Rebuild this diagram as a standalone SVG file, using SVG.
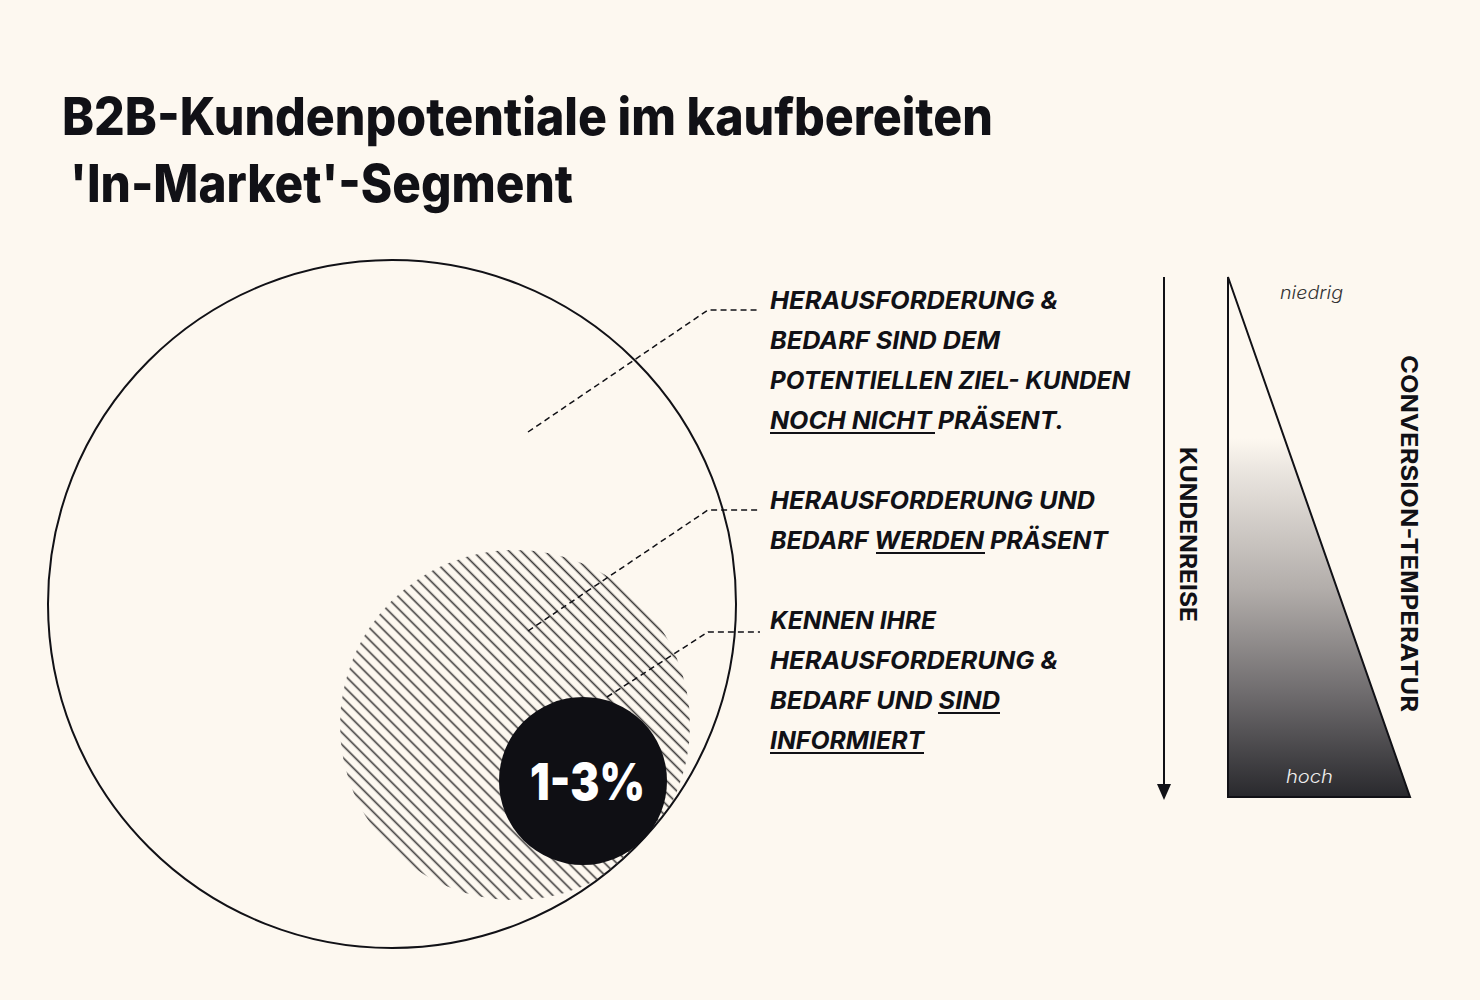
<svg xmlns="http://www.w3.org/2000/svg" width="1480" height="1000" viewBox="0 0 1480 1000">
<style>
.title{font-family:Inter,"Liberation Sans",sans-serif;font-weight:800;font-size:52px;fill:#111116;}
.lbl{font-family:Inter,"Liberation Sans",sans-serif;font-weight:700;font-style:italic;font-size:24px;fill:#111116;}
.vert{font-family:Inter,"Liberation Sans",sans-serif;font-weight:700;font-size:23px;fill:#111116;}
.small{font-family:Inter,"Liberation Sans",sans-serif;font-style:italic;font-weight:300;font-size:18px;}
.dash{fill:none;stroke:#111116;stroke-width:1.5;stroke-dasharray:6 4;}
.ul{stroke:#111116;stroke-width:2;}
</style>
<defs>
<pattern id="hatch" patternUnits="userSpaceOnUse" width="8.5" height="8.5" patternTransform="rotate(45)">
<line x1="0" y1="4.25" x2="8.5" y2="4.25" stroke="#3a3838" stroke-width="1.6"/>
</pattern>
<clipPath id="bigClip"><circle cx="392" cy="604" r="344"/></clipPath>
<linearGradient id="grad" gradientUnits="userSpaceOnUse" x1="0" y1="277" x2="0" y2="797">
<stop offset="0" stop-color="#fdf8f0"/>
<stop offset="0.31" stop-color="#fdf8f0"/>
<stop offset="0.37" stop-color="#ebe6e0"/>
<stop offset="0.6" stop-color="#b2adaa"/>
<stop offset="0.8" stop-color="#6f6c6e"/>
<stop offset="1" stop-color="#29292d"/>
</linearGradient>
</defs>
<rect width="1480" height="1000" fill="#fdf8f0"/>

<g id="title">
<text class="title" x="62" y="135" textLength="931" lengthAdjust="spacingAndGlyphs">B2B-Kundenpotentiale im kaufbereiten</text>
<text class="title" x="70" y="202" textLength="503" lengthAdjust="spacingAndGlyphs">'In-Market'-Segment</text>
</g>

<g id="outer-circle">
<circle cx="392" cy="604" r="344" fill="none" stroke="#111116" stroke-width="2"/>
</g>

<g id="hatched-circle">
<circle cx="515" cy="725" r="175" fill="url(#hatch)" clip-path="url(#bigClip)"/>
</g>

<g id="core-circle">
<circle cx="583" cy="781" r="84" fill="#0f0f14"/>
<text x="530" y="800" font-family="Inter,'Liberation Sans',sans-serif" font-weight="900" font-size="51" fill="#ffffff" textLength="115" lengthAdjust="spacingAndGlyphs">1-3%</text>
</g>

<g id="connectors">
<polyline class="dash" points="528,432 708,310 760,310"/>
<polyline class="dash" points="528,631 708,510 760,510"/>
<polyline class="dash" points="607,697 708,632 760,632"/>
<line x1="1164" y1="277" x2="1164" y2="786" stroke="#111116" stroke-width="2"/>
<polygon points="1157,784 1171,784 1164,800" fill="#111116"/>
</g>

<g id="label-1">
<text class="lbl" x="770" y="309" textLength="288" lengthAdjust="spacingAndGlyphs">HERAUSFORDERUNG &amp;</text>
<text class="lbl" x="770" y="349" textLength="230" lengthAdjust="spacingAndGlyphs">BEDARF SIND DEM</text>
<text class="lbl" x="770" y="389" textLength="360" lengthAdjust="spacingAndGlyphs">POTENTIELLEN ZIEL- KUNDEN</text>
<text class="lbl" x="770" y="429" textLength="294" lengthAdjust="spacingAndGlyphs">NOCH NICHT PRÄSENT.</text>
<line class="ul" x1="770" y1="433" x2="935" y2="433"/>
</g>

<g id="label-2">
<text class="lbl" x="770" y="509" textLength="325" lengthAdjust="spacingAndGlyphs">HERAUSFORDERUNG UND</text>
<text class="lbl" x="770" y="549" textLength="338" lengthAdjust="spacingAndGlyphs">BEDARF WERDEN PRÄSENT</text>
<line class="ul" x1="876" y1="553" x2="985" y2="553"/>
</g>

<g id="label-3">
<text class="lbl" x="770" y="629" textLength="166" lengthAdjust="spacingAndGlyphs">KENNEN IHRE</text>
<text class="lbl" x="770" y="669" textLength="288" lengthAdjust="spacingAndGlyphs">HERAUSFORDERUNG &amp;</text>
<text class="lbl" x="770" y="709" textLength="230" lengthAdjust="spacingAndGlyphs">BEDARF UND SIND</text>
<text class="lbl" x="770" y="749" textLength="154" lengthAdjust="spacingAndGlyphs">INFORMIERT</text>
<line class="ul" x1="938" y1="713" x2="1000" y2="713"/>
<line class="ul" x1="770" y1="753" x2="924" y2="753"/>
</g>

<g id="kundenreise">
<text class="vert" transform="translate(1180,447) rotate(90)" textLength="175" lengthAdjust="spacingAndGlyphs">KUNDENREISE</text>
</g>

<g id="temperature">
<path d="M1228,277 L1228,797 L1410,797 Z" fill="url(#grad)" stroke="#111116" stroke-width="2" stroke-linejoin="miter"/>
<text class="small" x="1280" y="299" fill="#333333" textLength="63" lengthAdjust="spacingAndGlyphs">niedrig</text>
<text class="small" x="1286" y="783" fill="#eeeeee" textLength="47" lengthAdjust="spacingAndGlyphs">hoch</text>
<text class="vert" transform="translate(1401,355) rotate(90)" textLength="357" lengthAdjust="spacingAndGlyphs">CONVERSION-TEMPERATUR</text>
</g>
</svg>
